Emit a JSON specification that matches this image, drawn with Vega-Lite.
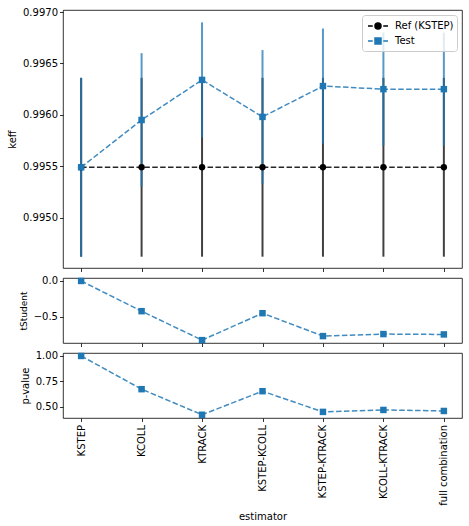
{
  "$schema": "https://vega.github.io/schema/vega-lite/v6.json",
  "padding": {"left": 7, "top": 6, "right": 5, "bottom": 5},
  "background": "white",
  "config": {
    "font": "DejaVu Sans",
    "view": {"stroke": "black", "strokeWidth": 0.8},
    "axis": {"labelFont": "DejaVu Sans", "labelFontSize": 10, "labelColor": "black", "titleFont": "DejaVu Sans", "titleFontSize": 10, "titleFontWeight": "normal", "titleColor": "black", "tickColor": "black", "tickSize": 3.5, "tickWidth": 0.8, "domain": false, "grid": false, "labelPadding": 2, "titlePadding": 5},
    "legend": {"labelFont": "DejaVu Sans", "labelFontSize": 10, "labelColor": "black"}
  },
  "datasets": {
    "rows": [
      {"idx": 0, "estimator": "KSTEP", "series": "Ref (KSTEP)", "keff": 0.99549, "err": 0.00087},
      {"idx": 1, "estimator": "KCOLL", "series": "Ref (KSTEP)", "keff": 0.99549, "err": 0.00087},
      {"idx": 2, "estimator": "KTRACK", "series": "Ref (KSTEP)", "keff": 0.99549, "err": 0.00087},
      {"idx": 3, "estimator": "KSTEP-KCOLL", "series": "Ref (KSTEP)", "keff": 0.99549, "err": 0.00087},
      {"idx": 4, "estimator": "KSTEP-KTRACK", "series": "Ref (KSTEP)", "keff": 0.99549, "err": 0.00087},
      {"idx": 5, "estimator": "KCOLL-KTRACK", "series": "Ref (KSTEP)", "keff": 0.99549, "err": 0.00087},
      {"idx": 6, "estimator": "full combination", "series": "Ref (KSTEP)", "keff": 0.99549, "err": 0.00087},
      {"idx": 0, "estimator": "KSTEP", "series": "Test", "keff": 0.99549, "err": 0.00087, "t": 0.0, "p": 1.0},
      {"idx": 1, "estimator": "KCOLL", "series": "Test", "keff": 0.99595, "err": 0.00065, "t": -0.42, "p": 0.674},
      {"idx": 2, "estimator": "KTRACK", "series": "Test", "keff": 0.99634, "err": 0.00056, "t": -0.822, "p": 0.423},
      {"idx": 3, "estimator": "KSTEP-KCOLL", "series": "Test", "keff": 0.99598, "err": 0.00065, "t": -0.448, "p": 0.654},
      {"idx": 4, "estimator": "KSTEP-KTRACK", "series": "Test", "keff": 0.99628, "err": 0.00056, "t": -0.766, "p": 0.451},
      {"idx": 5, "estimator": "KCOLL-KTRACK", "series": "Test", "keff": 0.99625, "err": 0.00055, "t": -0.738, "p": 0.47},
      {"idx": 6, "estimator": "full combination", "series": "Test", "keff": 0.99625, "err": 0.00055, "t": -0.743, "p": 0.46}
    ]
  },
  "vconcat": [
    {
      "width": 399,
      "height": 258,
      "data": {"name": "rows"},
      "encoding": {
        "x": {"field": "estimator", "type": "nominal", "sort": ["KSTEP", "KCOLL", "KTRACK", "KSTEP-KCOLL", "KSTEP-KTRACK", "KCOLL-KTRACK", "full combination"], "scale": {"type": "point", "padding": 0.3}, "axis": {"labels": false, "title": null}},
        "y": {"field": "keff", "type": "quantitative", "scale": {"domain": [0.99451, 0.99702], "nice": false, "zero": false}, "axis": {"title": "keff", "values": [0.995, 0.9955, 0.996, 0.9965, 0.997], "format": ".4f"}},
        "color": {"field": "series", "type": "nominal", "scale": {"domain": ["Ref (KSTEP)", "Test"], "range": ["black", "#1f77b4"]},
          "legend": {
            "title": null, "orient": "top-right", "offset": 5, "fillColor": "rgba(255,255,255,0.8)", "strokeColor": "#cccccc", "cornerRadius": 3, "padding": 3, "symbolSize": 196, "rowPadding": 0, "labelOffset": 9, "symbolOffset": 5,
            "symbolType": "M-1.43,0H-0.75M0.75,0H1.43M-0.43,-0.43H0.43V0.43H-0.43Z",
            "symbolOpacity": 1,
            "symbolStrokeWidth": 1.5,
            "encode": {"symbols": {"update": {
              "shape": {"signal": "datum.value === 'Test' ? 'M-1.43,0H-0.75M0.75,0H1.43M-0.43,-0.43H0.43V0.43H-0.43Z' : 'M-1.43,0H-0.75M0.75,0H1.43M-0.43,0A0.43,0.43 0 1,1 0.43,0A0.43,0.43 0 1,1 -0.43,0Z'"},
              "fill": {"signal": "datum.value === 'Test' ? '#1f77b4' : 'black'"},
              "stroke": {"signal": "datum.value === 'Test' ? '#1f77b4' : 'black'"},
              "strokeWidth": {"value": 1.5},
              "opacity": {"value": 1},
              "fillOpacity": {"value": 1},
              "strokeOpacity": {"value": 1},
              "size": {"value": 196}
            }}}
          }
        }
      },
      "layer": [
        {
          "mark": {"type": "errorbar", "thickness": 2, "opacity": 0.75, "ticks": false},
          "encoding": {"yError": {"field": "err"}}
        },
        {
          "mark": {"type": "line", "strokeWidth": 1.5, "strokeDash": [5.5, 2.4], "opacity": 0.85},
          "encoding": {"order": {"field": "idx"}}
        },
        {
          "transform": [{"filter": "datum.series === 'Ref (KSTEP)'"}],
          "mark": {"type": "point", "filled": true, "opacity": 1, "size": 40, "shape": "circle"}
        },
        {
          "transform": [{"filter": "datum.series === 'Test'"}],
          "mark": {"type": "point", "filled": true, "opacity": 1, "size": 42, "shape": "square"}
        }
      ]
    },
    {
      "width": 399,
      "height": 65,
      "data": {"name": "rows"},
      "transform": [{"filter": "datum.series === 'Test'"}],
      "encoding": {
        "x": {"field": "estimator", "type": "nominal", "sort": ["KSTEP", "KCOLL", "KTRACK", "KSTEP-KCOLL", "KSTEP-KTRACK", "KCOLL-KTRACK", "full combination"], "scale": {"type": "point", "padding": 0.3}, "axis": {"labels": false, "title": null}},
        "y": {"field": "t", "type": "quantitative", "scale": {"domain": [-0.862, 0.041], "nice": false, "zero": false}, "axis": {"title": "tStudent", "titleFontSize": 9, "values": [-0.5, 0], "format": ".1f"}}
      },
      "layer": [
        {"mark": {"type": "line", "strokeWidth": 1.5, "strokeDash": [5.5, 2.4], "color": "#1f77b4", "opacity": 0.85}, "encoding": {"order": {"field": "idx"}}},
        {"mark": {"type": "point", "filled": true, "opacity": 1, "size": 42, "shape": "square", "color": "#1f77b4"}}
      ]
    },
    {
      "width": 399,
      "height": 65,
      "data": {"name": "rows"},
      "transform": [{"filter": "datum.series === 'Test'"}],
      "encoding": {
        "x": {"field": "estimator", "type": "nominal", "sort": ["KSTEP", "KCOLL", "KTRACK", "KSTEP-KCOLL", "KSTEP-KTRACK", "KCOLL-KTRACK", "full combination"], "scale": {"type": "point", "padding": 0.3}, "axis": {"labelAngle": -90, "title": "estimator", "labelPadding": 3, "titlePadding": 6}},
        "y": {"field": "p", "type": "quantitative", "scale": {"domain": [0.391, 1.029], "nice": false, "zero": false}, "axis": {"title": "p-value", "values": [0.5, 0.75, 1.0], "format": ".2f"}}
      },
      "layer": [
        {"mark": {"type": "line", "strokeWidth": 1.5, "strokeDash": [5.5, 2.4], "color": "#1f77b4", "opacity": 0.85}, "encoding": {"order": {"field": "idx"}}},
        {"mark": {"type": "point", "filled": true, "opacity": 1, "size": 42, "shape": "square", "color": "#1f77b4"}}
      ]
    }
  ],
  "spacing": 10,
  "bounds": "flush",
  "resolve": {"scale": {"color": "independent"}, "legend": {"color": "independent"}}
}
